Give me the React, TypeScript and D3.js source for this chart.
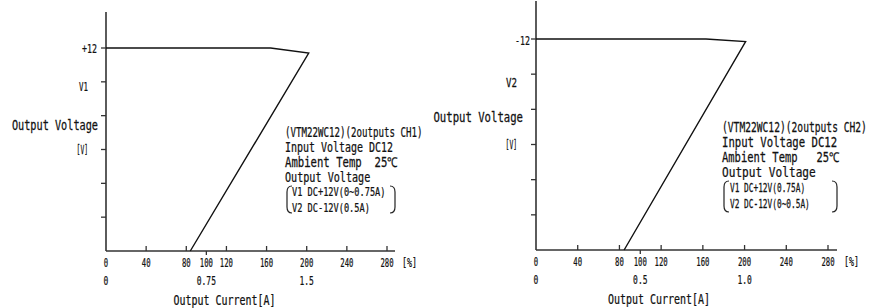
import React from "react";
import * as d3 from "d3";

// x axis: load in percent, y axis: output voltage magnitude
const percentTicks = [0, 40, 80, 120, 160, 200, 240, 280];
const percentLabels = [0, 40, 80, 100, 120, 160, 200, 240, 280];
const voltTicks = [0, 2, 4, 6, 8, 10, 12];

const ch1Curve = [
  { pct: 0, v: 12 },
  { pct: 164, v: 12 },
  { pct: 202, v: 11.7 },
  { pct: 84, v: 0 },
];
const ch2Curve = [
  { pct: 0, v: 12 },
  { pct: 163, v: 12 },
  { pct: 201, v: 11.85 },
  { pct: 84.5, v: 0 },
];

const ch1Current = [
  { pct: 0, label: "0" },
  { pct: 100, label: "0.75" },
  { pct: 200, label: "1.5" },
];
const ch2Current = [
  { pct: 0, label: "0" },
  { pct: 100, label: "0.5" },
  { pct: 200, label: "1.0" },
];

const ch1YLabels = [
  { v: 12, label: "+12" },
  { v: 10, label: "V1" },
  { v: 8, label: "Output Voltage" },
  { v: 6, label: "[V]" },
];
const ch2YLabels = [
  { v: 12, label: "-12" },
  { v: 10, label: "V2" },
  { v: 8, label: "Output Voltage" },
  { v: 6, label: "[V]" },
];

const ch1Notes = ["(VTM22WC12)(2outputs CH1)", "Input Voltage DC12", "Ambient Temp  25℃", "Output Voltage"];
const ch1Bracket = ["V1 DC+12V(0~0.75A)", "V2 DC-12V(0.5A)"];
const ch2Notes = ["(VTM22WC12)(2outputs CH2)", "Input Voltage DC12", "Ambient Temp   25℃", "Output Voltage"];
const ch2Bracket = ["V1 DC+12V(0.75A)", "V2 DC-12V(0~0.5A)"];

const FONT = "'DejaVu Sans Mono', monospace";

type Pt = { pct: number; v: number };
type Lab = { pct: number; label: string };
type YLab = { v: number; label: string };

// condensed text: mono glyphs squeezed horizontally to a per-char width
const Cond = ({ x, y, size, cw, anchor = "start", children }: {
  x: number; y: number; size: number; cw: number; anchor?: string; children: string;
}) => {
  const sx = cw / (0.602 * size);
  return (
    <g transform={`translate(${x},${y}) scale(${sx},1)`}>
      <text textAnchor={anchor} fontSize={size} style={{ whiteSpace: "pre" }}>{children}</text>
    </g>
  );
};

type PanelProps = {
  x0: number; x1: number; xEnd: number;
  y0: number; y12: number; yTop: number;
  curve: Pt[]; current: Lab[]; yLabels: YLab[];
  yLabelDx: number[]; yLabelDy: number[]; yLabelCw: number[];
  notes: string[]; bracket: string[];
  noteX: number; noteY: number; noteCw: number[];
  brX0: number; brX1: number; brTop: number; brBottom: number; brTextX: number; brTextY: number; brCw: number;
};

const Panel = (p: PanelProps) => {
  const x = d3.scaleLinear().domain([0, 280]).range([p.x0, p.x1]);
  const y = d3.scaleLinear().domain([0, 12]).range([p.y0, p.y12]);
  const line = d3
    .line<Pt>()
    .x((d) => x(d.pct))
    .y((d) => y(d.v));

  const bracketPath = (bx: number, dir: number) =>
    `M${bx + 5 * dir},${p.brTop} Q${bx},${p.brTop} ${bx},${p.brTop + 6} L${bx},${p.brBottom - 6} Q${bx},${p.brBottom} ${bx + 5 * dir},${p.brBottom}`;

  return (
    <g fontFamily={FONT} fill="#111" stroke="#111" strokeWidth={0.25}>
      {/* axes */}
      <line x1={p.x0} x2={p.x0} y1={p.yTop} y2={p.y0} stroke="#333" strokeWidth={1.6} />
      <line x1={p.x0} x2={p.xEnd} y1={p.y0} y2={p.y0} stroke="#333" strokeWidth={1.6} />
      {voltTicks.slice(1).map((v) => (
        <line key={v} x1={p.x0 - 5} x2={p.x0} y1={y(v)} y2={y(v)} stroke="#333" strokeWidth={1.3} />
      ))}
      {percentTicks.slice(1).map((t) => (
        <line key={t} x1={x(t)} x2={x(t)} y1={p.y0 - 5} y2={p.y0} stroke="#333" strokeWidth={1.3} />
      ))}
      <line x1={x(100)} x2={x(100)} y1={p.y0} y2={p.y0 + 4} stroke="#333" strokeWidth={1.3} />

      {/* x labels */}
      {percentLabels.map((t) => (
        <Cond key={t} x={x(t)} y={p.y0 + 16} size={13} cw={4.4} anchor="middle">{String(t)}</Cond>
      ))}
      <Cond x={p.xEnd + 7} y={p.y0 + 16} size={13} cw={5}>[%]</Cond>
      {p.current.map((d) => (
        <Cond key={d.label} x={x(d.pct)} y={p.y0 + 34} size={13} cw={4.8} anchor="middle">{d.label}</Cond>
      ))}
      <Cond x={x(118)} y={p.y0 + 54} size={13.5} cw={6.0} anchor="middle">Output Current[A]</Cond>

      {/* y labels */}
      {p.yLabels.map((d, i) => (
        <Cond key={d.label} x={p.x0 + p.yLabelDx[i]} y={y(d.v) + p.yLabelDy[i] + 4.5}
          size={d.label.length > 4 ? 13.5 : 13} cw={p.yLabelCw[i]} anchor="end">{d.label}</Cond>
      ))}

      {/* curve */}
      <path d={line(p.curve) ?? ""} fill="none" stroke="#111" strokeWidth={1.4} />

      {/* notes */}
      {p.notes.map((s, i) => (
        <Cond key={i} x={p.noteX} y={p.noteY + i * 15} size={13.5} cw={p.noteCw[i]}>{s}</Cond>
      ))}
      <path d={bracketPath(p.brX0, 1)} fill="none" stroke="#222" strokeWidth={1.2} />
      <path d={bracketPath(p.brX1, -1)} fill="none" stroke="#222" strokeWidth={1.2} />
      {p.bracket.map((s, i) => (
        <Cond key={i} x={p.brTextX} y={p.brTextY + i * 15.5} size={12} cw={p.brCw}>{s}</Cond>
      ))}
    </g>
  );
};

export default function App() {
  return (
    <svg width={882} height={308} style={{ position: "absolute", left: 0, top: 0, background: "#fff" }}>
      <Panel
        x0={106} x1={387} xEnd={395} y0={251} y12={48} yTop={12}
        curve={ch1Curve} current={ch1Current} yLabels={ch1YLabels}
        yLabelDx={[-9, -18, -8, -18]} yLabelDy={[0, 5, 10, 0]} yLabelCw={[5, 4.5, 6.15, 3.8]}
        notes={ch1Notes} bracket={ch1Bracket}
        noteX={285} noteY={137} noteCw={[5.5, 6.0, 6.4, 6.1]}
        brX0={287} brX1={395} brTop={186} brBottom={213} brTextX={292} brTextY={196} brCw={5.2}
      />
      <Panel
        x0={536} x1={828} xEnd={837} y0={250} y12={39} yTop={1}
        curve={ch2Curve} current={ch2Current} yLabels={ch2YLabels}
        yLabelDx={[-6, -19, -13, -19]} yLabelDy={[1, 8, 8, 0]} yLabelCw={[5, 5.5, 6.4, 3.8]}
        notes={ch2Notes} bracket={ch2Bracket}
        noteX={722} noteY={132} noteCw={[5.8, 6.4, 6.3, 6.7]}
        brX0={724} brX1={837} brTop={181} brBottom={212} brTextX={730} brTextY={192} brCw={4.7}
      />
    </svg>
  );
}
